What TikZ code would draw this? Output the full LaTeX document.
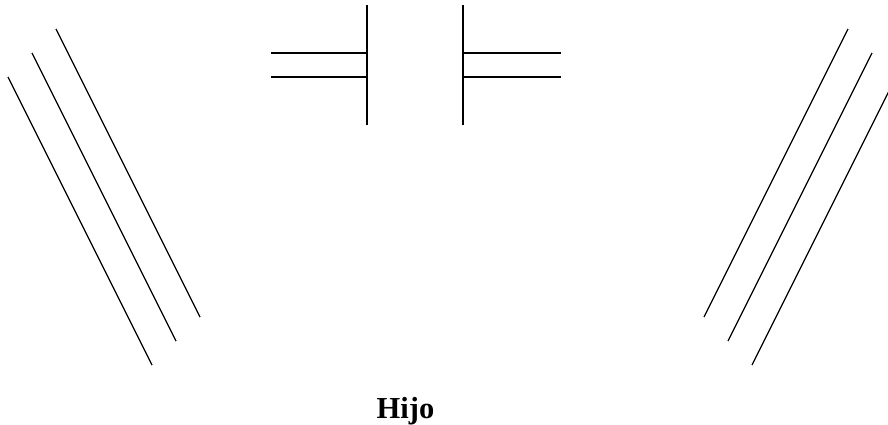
\documentclass[tikz,border=0pt]{standalone}
\usepackage{fontspec}
\setmainfont{Liberation Serif}
\usetikzlibrary{positioning}
\tikzset{
  wire/.style={line width=1.3pt, draw=black, line cap=butt},
  label/.style={font=\fontsize{30.5}{34}\selectfont\bfseries, inner sep=0pt, anchor=base}
}

\begin{document}
\begin{tikzpicture}[x=1pt, y=-1pt]
    \useasboundingbox (0,0) rectangle (888,425);
    \clip (0,0) rectangle (888,425);

    % left group of slanted lines
    \foreach \d in {0,24,48} {
      \draw[wire] (8+\d,77-\d) -- (152+\d,365-\d);
    }
    % right group of slanted lines
    \foreach \d in {0,24,48} {
      \draw[wire] (848+\d,29+\d) -- (704+\d,317+\d);
    }

    % left plate with two leads
    \draw[wire] (367,5) -- (367,125);
    \draw[wire] (271,53) -- (367,53);
    \draw[wire] (271,77) -- (367,77);

    % right plate with two leads
    \draw[wire] (463,5) -- (463,125);
    \draw[wire] (463,53) -- (561,53);
    \draw[wire] (463,77) -- (561,77);

    \node[label] (hijo) at (405.5,418) {Hijo};
  \end{tikzpicture}
\end{document}
